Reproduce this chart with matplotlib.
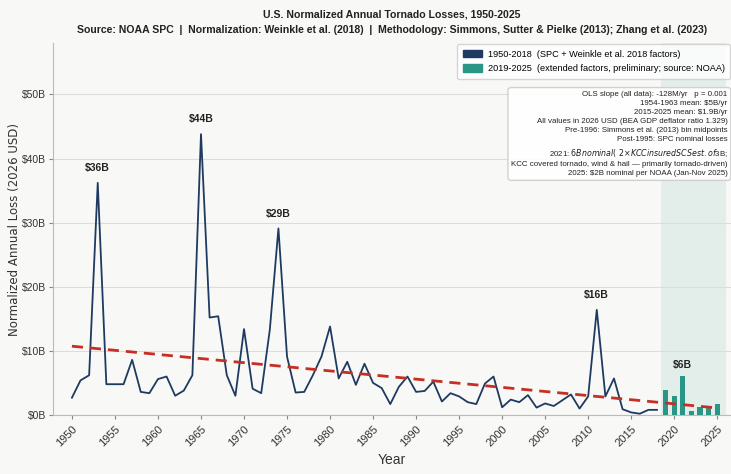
import matplotlib
matplotlib.use("Agg")
import matplotlib.pyplot as plt
from matplotlib.patches import Patch
import numpy as np

# data (billions, 2026 USD)
years_hist = list(range(1950, 2019))
loss_hist = [2.7, 5.4, 6.2, 36.2, 4.8, 4.8, 4.8, 8.6, 3.6, 3.4,
             5.6, 6.0, 3.0, 3.8, 6.2, 43.8, 15.2, 15.4, 6.2, 3.0,
             13.4, 4.1, 3.4, 13.3, 29.1, 9.1, 3.5, 3.6, 6.2, 9.1,
             13.8, 5.7, 8.3, 4.7, 8.0, 5.0, 4.2, 1.7, 4.4, 6.0,
             3.6, 3.75, 5.2, 2.1, 3.4, 2.9, 2.0, 1.7, 4.9, 6.0,
             1.2, 2.4, 2.0, 3.1, 1.15, 1.8, 1.4, 2.3, 3.2, 1.0,
             2.9, 16.4, 2.9, 5.7, 0.9, 0.4, 0.2, 0.8, 0.8]
years_ext = list(range(2019, 2026))
loss_ext = [3.9, 3.0, 6.1, 0.6, 1.3, 1.4, 1.7]

peak_years = [1953, 1965, 1974, 2011]
peak_labels = ["$36B", "$44B", "$29B", "$16B"]
bar_peak_year = 2021
bar_peak_label = "$6B"

stats_text = ("OLS slope (all data): -128M/yr   p = 0.001\n"
              "1954-1963 mean: $5B/yr\n"
              "2015-2025 mean: $1.9B/yr\n"
              "All values in 2026 USD (BEA GDP deflator ratio 1.329)\n"
              "Pre-1996: Simmons et al. (2013) bin midpoints\n"
              "Post-1995: SPC nominal losses\n"
              "2021: $6B nominal (~2× KCC insured SCS est. of $3B;\n"
              "KCC covered tornado, wind & hail — primarily tornado-driven)\n"
              "2025: $2B nominal per NOAA (Jan-Nov 2025)")

plt.rcParams['font.family'] = ['Liberation Sans', 'DejaVu Sans']
bg = "#f8f8f6"
navy = "#1f3a60"
teal = "#2a9686"
red = "#c62f23"

fig = plt.figure(figsize=(7.31, 4.74), dpi=100, facecolor=bg)
ax = fig.add_axes([0.0725, 0.1245, 0.9275, 0.7845], facecolor=bg)

ax.axvspan(2018.5, 2026.0, color="#2a9d8f", alpha=0.1, lw=0, zorder=0)
ax.plot(years_hist, loss_hist, color=navy, lw=1.3, zorder=3)
ax.bar(years_ext, loss_ext, width=0.62, color=teal, zorder=3)

# OLS trend over all years
all_years = np.array(years_hist + years_ext)
all_loss = np.array(loss_hist + loss_ext)
slope, icpt = np.polyfit(all_years, all_loss, 1)
tx = np.array([1950, 2025])
ax.plot(tx, slope * tx + icpt, color=red, lw=2, ls=(0, (4, 2.5)), zorder=4)

for yr, lab in zip(peak_years, peak_labels):
    ax.annotate(lab, (yr, loss_hist[yr - 1950]), xytext=(0, 7),
                textcoords="offset points", ha="center", va="bottom",
                fontsize=7.5, fontweight="bold", color="#222222")
ax.annotate(bar_peak_label, (bar_peak_year, loss_ext[bar_peak_year - 2019]),
            xytext=(0, 4), textcoords="offset points", ha="center",
            va="bottom", fontsize=7.5, fontweight="bold", color="#222222")

ax.set_xlim(1947.8, 2026.6)
ax.set_ylim(0, 58)
ax.set_yticks(range(0, 60, 10))
ax.set_yticklabels([f"${v}B" for v in range(0, 60, 10)], fontsize=7.5)
ax.set_xticks(range(1950, 2030, 5))
ax.set_xticklabels([str(y) for y in range(1950, 2030, 5)], rotation=45,
                   ha="right", rotation_mode="anchor", fontsize=8)
ax.tick_params(colors="#888888", length=3)
ax.tick_params(axis="y", pad=2)
for lbl in ax.get_xticklabels() + ax.get_yticklabels():
    lbl.set_color("#333333")
ax.grid(axis="y", color="#dcdcdc", lw=0.8)
ax.set_axisbelow(True)
for s in ["top", "right"]:
    ax.spines[s].set_visible(False)
for s in ["left", "bottom"]:
    ax.spines[s].set_color("#bbbbbb")

ax.set_xlabel("Year", fontsize=10, color="#333333", labelpad=3)
ax.set_ylabel("Normalized Annual Loss (2026 USD)", fontsize=8.5,
              family="DejaVu Sans", color="#333333", labelpad=1)
ax.set_title("U.S. Normalized Annual Tornado Losses, 1950-2025\n"
             "Source: NOAA SPC  |  Normalization: Weinkle et al. (2018)  |  "
             "Methodology: Simmons, Sutter & Pielke (2013); Zhang et al. (2023)",
             fontsize=7.6, fontweight="bold", color="#222222", pad=7,
             linespacing=1.7)

handles = [Patch(color=navy, label="1950-2018  (SPC + Weinkle et al. 2018 factors)"),
           Patch(color=teal, label="2019-2025  (extended factors, preliminary; source: NOAA)")]
leg = ax.legend(handles=handles, loc="upper right", fontsize=6.6,
                frameon=True, borderaxespad=0.1, handlelength=2.1,
                handleheight=0.9, labelspacing=0.6, borderpad=0.6,
                handletextpad=0.6)
leg.get_frame().set_facecolor("white")
leg.get_frame().set_edgecolor("#cccccc")

ax.text(0.995, 0.872, stats_text, transform=ax.transAxes, ha="right", va="top",
        fontsize=5.7, color="#222222", linespacing=1.42, zorder=6,
        bbox=dict(boxstyle="round,pad=0.4", facecolor="white",
                  edgecolor="#cccccc", alpha=0.9))

fig.savefig("out.png", dpi=100, facecolor=bg)
